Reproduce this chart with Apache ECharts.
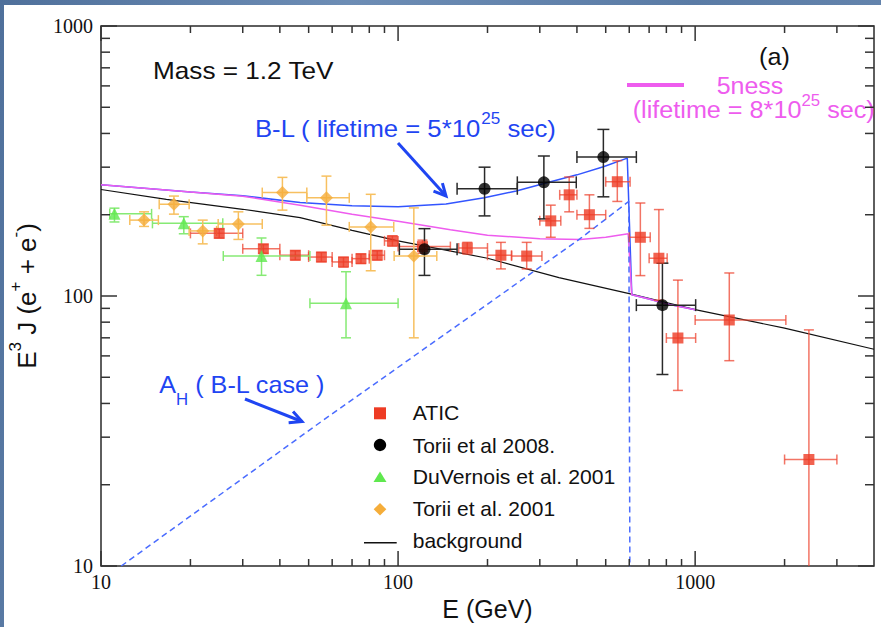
<!DOCTYPE html>
<html>
<head>
<meta charset="utf-8">
<title>Electron + positron spectrum, Mass = 1.2 TeV</title>
<script src="https://cdn.jsdelivr.net/npm/echarts@6.0.0/dist/echarts.min.js"></script>
<style>
  html, body { margin: 0; padding: 0; background: #5a7aa3; }
  #chart {
    width: 881px; height: 627px;
    background: linear-gradient(100deg, #4f709b 0%, #6d8db5 35%, #5a7ba5 70%, #6888b0 100%);
  }
</style>
</head>
<body>
<div id="chart"></div>
<script>
const SANS = '"Liberation Sans", Arial, Helvetica, sans-serif';
const SERIF = '"Liberation Serif", "Times New Roman", serif';
const BLUE = '#1f45f2';
const MAGENTA = '#ee5cee';

// ---- axis ticks / labels ----
const xTickValues = [10, 100, 1000];
const xTickLabels = ['10', '100', '1000'];
const xMinorTicks = [20, 30, 40, 50, 60, 70, 80, 90, 200, 300, 400, 500, 600, 700, 800, 900, 2000, 3000];
const yTickValues = [10, 100, 1000];
const yTickLabels = ['10', '100', '1000'];
const yMinorTicks = [20, 30, 40, 50, 60, 70, 80, 90, 200, 300, 400, 500, 600, 700, 800, 900];

// ---- ATIC ----
const aticEnergy     = [25, 35.2, 45.1, 55.2, 65.5, 75, 85.1, 95.7, 120.8, 171, 221.9, 271, 326.6, 376.7, 440.6, 547, 654, 755, 875, 1303, 2415];
const aticFlux       = [170.6, 149.6, 141.6, 139.4, 133.7, 137.5, 141.6, 160, 152.4, 150.6, 141.6, 140.6, 189.8, 237, 200, 265, 165, 138, 69.9, 81.5, 24.8];
const aticEnergyLow  = [20, 30, 40, 50, 60, 70, 80, 90, 100, 160, 200, 241, 300, 350, 400, 500, 600, 700, 800, 1000, 2000];
const aticEnergyHigh = [30, 40, 50, 60, 70, 80, 90, 100, 150, 200, 241, 305, 353, 400, 500, 604, 706, 805, 1004, 2020, 3000];
const aticFluxLow    = [164, 144, 136, 134, 128, 132, 136, 153, 144, 143, 126, 126, 165, 205, 178, 224, 119, 96.5, 44.7, 57.6, 5];
const aticFluxHigh   = [177, 155, 147, 145, 139, 143, 147, 167, 161, 158, 158, 158, 217, 276, 237, 317, 221, 209, 114.5, 121.7, 74.9];

// ---- Torii et al 2008 ----
const torii08Energy     = [122.7, 195.5, 309.6, 491, 776];
const torii08Flux       = [149, 249.5, 263.6, 327, 92.5];
const torii08EnergyLow  = [101, 158, 252, 400, 634];
const torii08EnergyHigh = [158, 252, 398, 634, 1004];
const torii08FluxLow    = [119.2, 198, 193, 233, 51.2];
const torii08FluxHigh   = [177.6, 300, 330, 414, 132.3];

// ---- DuVernois et al. 2001 ----
const duvEnergy     = [11.1, 19, 34.7, 66.8];
const duvFlux       = [201.5, 185.8, 140.6, 94];
const duvEnergyLow  = [10.7, 14.9, 25.8, 50.5];
const duvEnergyHigh = [14.8, 25.7, 50.5, 100];
const duvFluxLow    = [188, 170, 119.3, 70];
const duvFluxHigh   = [211.5, 196.7, 164, 123];

// ---- Torii et al. 2001 ----
const torii01Energy     = [13.96, 17.6, 22, 29, 40.8, 57.4, 80.9, 113];
const torii01Flux       = [191, 218.7, 174.2, 184.8, 241.6, 231, 180.3, 140.6];
const torii01EnergyLow  = [12.5, 15.7, 19.8, 24.8, 34.9, 49.3, 68.5, 97];
const torii01EnergyHigh = [15.6, 19.8, 24.5, 34.9, 49.3, 68.5, 96.7, 135];
const torii01FluxLow    = [181, 201, 156, 162, 208, 183, 124, 70];
const torii01FluxHigh   = [205, 234.5, 191, 205, 275, 278, 238, 212];

// ---- model curves ----
const bgEnergy = [10, 16.6, 30, 46.8, 70, 100, 200, 348, 600, 1000, 2000, 4000];
const bgFlux   = [248, 228, 209.5, 195, 175, 160, 138, 117, 102, 89, 76, 63.5];
const blEnergy = [10, 20, 30, 46.8, 70, 100, 145, 195, 250, 310, 400, 491, 591, 612, 700, 800, 1000];
const blFlux   = [258, 243, 235, 222, 216, 214, 219, 231, 245, 261, 281, 301, 324, 101, 97.5, 93.5, 89];
const fnEnergy = [10, 20, 30, 46.8, 70, 100, 150, 200, 300, 410, 500, 595, 612, 700, 800, 1000];
const fnFlux   = [258, 243, 234, 217, 201, 189, 176, 168, 163, 162, 165, 170, 101, 97.5, 93.5, 89];
const ahEnergy = [11.7, 54.6, 410, 598, 604];
const ahFlux   = [10, 34, 163, 224, 5];

function zipRows(...cols) { return cols[0].map((_, i) => cols.map(c => c[i])); }

function seg(x1, y1, x2, y2, color, w) {
  return { type: 'line', shape: { x1, y1, x2, y2 }, style: { stroke: color, lineWidth: w } };
}

function errorBars(color, cap) {
  return function (params, api) {
    const e = api.value(0), v = api.value(1);
    const left = api.coord([api.value(2), v]);
    const right = api.coord([api.value(3), v]);
    const low = api.coord([e, api.value(4)]);
    const high = api.coord([e, api.value(5)]);
    return {
      type: 'group',
      children: [
        seg(left[0], left[1], right[0], right[1], color, 1.5),
        seg(left[0], left[1] - cap, left[0], left[1] + cap, color, 1.5),
        seg(right[0], right[1] - cap, right[0], right[1] + cap, color, 1.5),
        seg(low[0], low[1], high[0], high[1], color, 1.5),
        seg(low[0] - cap, low[1], low[0] + cap, low[1], color, 1.5),
        seg(high[0] - cap, high[1], high[0] + cap, high[1], color, 1.5)
      ]
    };
  };
}

function xTicks(params, api) {
  const cs = params.coordSys;
  const x = api.coord([api.value(0), 100])[0];
  const len = api.value(2) ? 15 : 7;
  const top = cs.y, bottom = cs.y + cs.height;
  return { type: 'group', children: [
    seg(x, bottom, x, bottom - len, '#333', 1.5),
    seg(x, top, x, top + len, '#333', 1.5)
  ]};
}

function yTicks(params, api) {
  const cs = params.coordSys;
  const y = api.coord([100, api.value(1)])[1];
  const len = api.value(2) ? 16 : 9;
  const left = cs.x, right = cs.x + cs.width;
  return { type: 'group', children: [
    seg(left, y, left + len, y, '#333', 1.5),
    seg(right, y, right - len, y, '#333', 1.5)
  ]};
}

function tickLabel(values, labels) {
  return function (v) {
    const i = values.findIndex(t => Math.abs(t - v) / t < 1e-6);
    return i >= 0 ? labels[i] : '';
  };
}

function arrow(x1, y1, x2, y2, color) {
  const dx = x2 - x1, dy = y2 - y1, L = Math.hypot(dx, dy);
  const ux = dx / L, uy = dy / L, px = -uy, py = ux;
  const hl = 12, hw = 6;
  return [
    { type: 'line', shape: { x1, y1, x2, y2 }, style: { stroke: color, lineWidth: 3 }, silent: true },
    { type: 'polyline', shape: { points: [
        [x2 - ux * hl + px * hw, y2 - uy * hl + py * hw], [x2, y2],
        [x2 - ux * hl - px * hw, y2 - uy * hl - py * hw]] },
      style: { stroke: color, lineWidth: 3, fill: null }, silent: true }
  ];
}

// Left-anchored annotation text; the slide typeface runs slightly wide, hence scaleX.
function label(x, y, text, size, color, rich, sx) {
  return { type: 'text', x, y, scaleX: sx || 1, silent: true,
    style: { text, rich, font: size + 'px ' + SANS, fill: color, align: 'left', verticalAlign: 'middle' } };
}

const supRich = (size, color) => ({
  m: { fontSize: 24, fontFamily: SANS, fill: color },
  s: { fontSize: size, fontFamily: SANS, fill: color, padding: [0, 0, 20, 0] },
  b: { fontSize: size, fontFamily: SANS, fill: color, padding: [30, 0, 0, 0] }
});

const chart = echarts.init(document.getElementById('chart'), null, { renderer: 'svg' });

chart.setOption({
  animation: false,
  backgroundColor: 'transparent',
  grid: {
    left: 101, top: 26, right: 7, bottom: 61,
    show: true, backgroundColor: '#fff', borderColor: '#2a2a2a', borderWidth: 1.5,
    outerBoundsMode: 'none', containLabel: false
  },
  xAxis: {
    type: 'log', logBase: 10, min: 10, max: 4000,
    name: 'E (GeV)', nameLocation: 'middle', nameGap: 28,
    nameTextStyle: { fontFamily: SANS, fontSize: 25, color: '#111', lineHeight: 25 },
    axisLine: { show: false }, axisTick: { show: false }, splitLine: { show: false },
    axisLabel: { formatter: tickLabel(xTickValues, xTickLabels), fontFamily: SERIF, fontSize: 20, color: '#111', margin: 6 }
  },
  yAxis: {
    type: 'log', logBase: 10, min: 10, max: 1000,
    name: '{m|E}{s|3}{m| J (e}{s|+}{m| + e}{s|-}{m|)}',
    nameLocation: 'middle', nameRotate: 90, nameGap: 55,
    nameTextStyle: {
      color: '#111',
      rich: {
        m: { fontFamily: SANS, fontSize: 26, color: '#111' },
        s: { fontFamily: SANS, fontSize: 17, color: '#111', padding: [0, 0, 22, 0] }
      }
    },
    axisLine: { show: false }, axisTick: { show: false }, splitLine: { show: false },
    axisLabel: { formatter: tickLabel(yTickValues, yTickLabels), fontFamily: SERIF, fontSize: 20, color: '#111', margin: 8 }
  },
  graphic: [
    { type: 'rect', shape: { x: 4, y: 5, width: 877, height: 622 }, style: { fill: '#fff' }, z: -10, silent: true },
    label(153, 70.6, 'Mass = 1.2 TeV', 24, '#111', undefined, 1.09),
    label(759, 56.6, '(a)', 24, '#111', undefined, 1.05),
    { type: 'line', shape: { x1: 627, y1: 85, x2: 684, y2: 85 }, style: { stroke: MAGENTA, lineWidth: 4 }, silent: true },
    label(716.7, 85.6, '5ness', 24, MAGENTA, undefined, 1.04),
    label(632.7, 109.9, '{m|(lifetime = 8*10}{s|25}{m| sec)}', 24, MAGENTA, supRich(16, MAGENTA), 1.05),
    label(255, 128.3, '{m|B-L ( lifetime = 5*10}{s|25}{m| sec)}', 24, BLUE, supRich(16, BLUE), 1.07),
    label(159.3, 384.3, '{m|A}{b|H}{m| ( B-L case )}', 24, BLUE, supRich(16, BLUE), 1.05),
    ...arrow(398, 143, 446, 196, BLUE),
    ...arrow(245, 399, 302, 421.5, BLUE),
    // legend
    { type: 'rect', shape: { x: 374, y: 407.3, width: 12, height: 12 }, style: { fill: '#ee3b24' }, silent: true },
    { type: 'circle', shape: { cx: 380, cy: 445, r: 6.2 }, style: { fill: '#000' }, silent: true },
    { type: 'polygon', shape: { points: [[380, 471.5], [373.5, 482], [386.5, 482]] }, style: { fill: '#5fe84e' }, silent: true },
    { type: 'polygon', shape: { points: [[380, 503], [386.3, 509.3], [380, 515.6], [373.7, 509.3]] }, style: { fill: '#f5ad3a' }, silent: true },
    { type: 'line', shape: { x1: 364, y1: 542.7, x2: 396.7, y2: 542.7 }, style: { stroke: '#111', lineWidth: 1.5 }, silent: true },
    label(412.7, 413, 'ATIC', 20, '#111', undefined, 1.06),
    label(412.7, 445.3, 'Torii et al 2008.', 20, '#111', undefined, 1.05),
    label(412.7, 477, 'DuVernois et al. 2001', 20, '#111', undefined, 1.06),
    label(412.7, 509, 'Torii et al. 2001', 20, '#111', undefined, 1.05),
    label(412.7, 541, 'background', 20, '#111', undefined, 1.05)
  ],
  series: [
    { type: 'custom', name: 'x ticks', renderItem: xTicks, silent: true, z: 6,
      data: xTickValues.map(v => [v, 100, 1]).concat(xMinorTicks.map(v => [v, 100, 0])), encode: { x: 0, y: 1 } },
    { type: 'custom', name: 'y ticks', renderItem: yTicks, silent: true, z: 6,
      data: yTickValues.map(v => [100, v, 1]).concat(yMinorTicks.map(v => [100, v, 0])), encode: { x: 0, y: 1 } },
    { type: 'line', name: 'background', data: zipRows(bgEnergy, bgFlux), showSymbol: false, symbol: 'none',
      lineStyle: { color: '#111', width: 1.2 }, z: 2, silent: true },
    { type: 'line', name: 'B-L', data: zipRows(blEnergy, blFlux), showSymbol: false, symbol: 'none',
      lineStyle: { color: '#3355ff', width: 1.5 }, z: 2, silent: true },
    { type: 'line', name: '5ness', data: zipRows(fnEnergy, fnFlux), showSymbol: false, symbol: 'none',
      lineStyle: { color: MAGENTA, width: 1.5 }, z: 2, silent: true },
    { type: 'line', name: 'A_H (B-L case)', data: zipRows(ahEnergy, ahFlux), showSymbol: false, symbol: 'none',
      lineStyle: { color: '#4a6cff', width: 1.5, type: [6, 4] }, z: 2, silent: true, clip: true },
    { type: 'custom', name: 'ATIC errors', renderItem: errorBars('rgba(238,70,50,0.75)', 5), clip: true, z: 3, silent: true,
      data: zipRows(aticEnergy, aticFlux, aticEnergyLow, aticEnergyHigh, aticFluxLow, aticFluxHigh), encode: { x: 0, y: 1 } },
    { type: 'custom', name: 'Torii 2008 errors', renderItem: errorBars('#2a2a2a', 6), clip: true, z: 3, silent: true,
      data: zipRows(torii08Energy, torii08Flux, torii08EnergyLow, torii08EnergyHigh, torii08FluxLow, torii08FluxHigh), encode: { x: 0, y: 1 } },
    { type: 'custom', name: 'DuVernois errors', renderItem: errorBars('#86ea74', 5), clip: true, z: 3, silent: true,
      data: zipRows(duvEnergy, duvFlux, duvEnergyLow, duvEnergyHigh, duvFluxLow, duvFluxHigh), encode: { x: 0, y: 1 } },
    { type: 'custom', name: 'Torii 2001 errors', renderItem: errorBars('#f7c060', 5), clip: true, z: 3, silent: true,
      data: zipRows(torii01Energy, torii01Flux, torii01EnergyLow, torii01EnergyHigh, torii01FluxLow, torii01FluxHigh), encode: { x: 0, y: 1 } },
    { type: 'scatter', name: 'ATIC', data: zipRows(aticEnergy, aticFlux), symbol: 'rect', symbolSize: 11,
      itemStyle: { color: '#ee3b24' }, z: 4, silent: true },
    { type: 'scatter', name: 'Torii et al 2008.', data: zipRows(torii08Energy, torii08Flux), symbol: 'circle', symbolSize: 12,
      itemStyle: { color: '#000' }, z: 4, silent: true },
    { type: 'scatter', name: 'DuVernois et al. 2001', data: zipRows(duvEnergy, duvFlux), symbol: 'triangle', symbolSize: 12,
      itemStyle: { color: '#5fe84e' }, z: 4, silent: true },
    { type: 'scatter', name: 'Torii et al. 2001', data: zipRows(torii01Energy, torii01Flux), symbol: 'diamond', symbolSize: 13,
      itemStyle: { color: '#f5ad3a' }, z: 4, silent: true }
  ]
});
</script>
</body>
</html>
